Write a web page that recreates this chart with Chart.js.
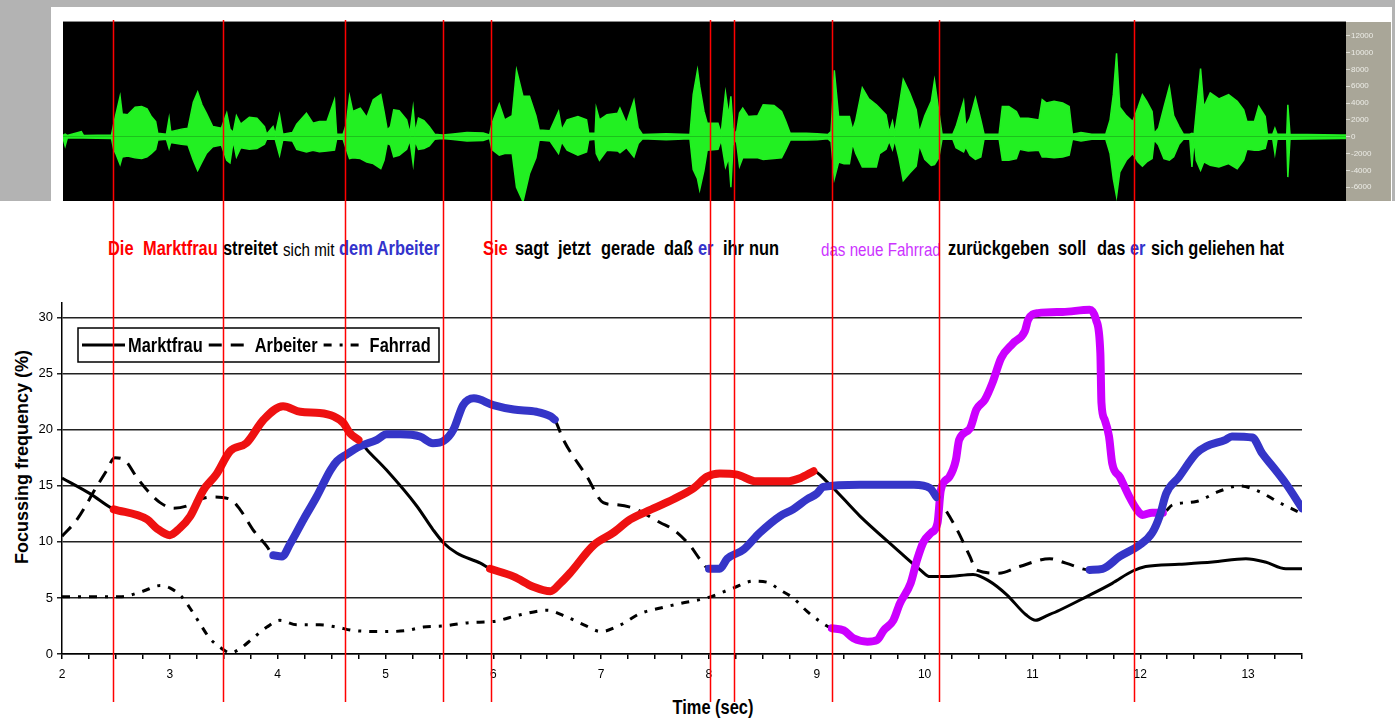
<!DOCTYPE html>
<html>
<head>
<meta charset="utf-8">
<script src="https://cdn.jsdelivr.net/npm/chart.js@4.4.1/dist/chart.umd.min.js"></script>
<style>
  html, body { margin: 0; padding: 0; background: #fff; }
  #page { position: relative; width: 1395px; height: 720px; overflow: hidden; background: #fff; }
  .gray { position: absolute; background: #b3b3b3; }
  #waveCanvas { position: absolute; left: 63px; top: 22px; }
  #waveTop { position: absolute; left: 63px; top: 21px; width: 1283px; height: 1px; background: #8a8a8a; }
  #mainCanvas { position: absolute; left: 0; top: 0; pointer-events: none; }
  .w { position: absolute; top: 239px; line-height: 19px; white-space: pre;
       font-family: 'Liberation Sans', Arial, sans-serif; font-size: 20px; font-weight: bold; color: #000;
       transform: scaleX(0.82); transform-origin: 0 0; }
  .w.thin { font-weight: normal; font-size: 18.5px; top: 240px; }
  .red { color: #ff0000; }
  .blue { color: #3333cc; }
  .pink { color: #cc33ff; }
  #yTitle { position: absolute; left: 22px; top: 457px; transform: translate(-50%, -50%) rotate(-90deg);
            font-family: 'Liberation Sans', Arial, sans-serif; font-weight: bold; font-size: 18px; white-space: nowrap; }
  #xTitle { position: absolute; left: 713px; top: 707px; transform: translate(-50%, -50%) scaleX(0.82);
            font-family: 'Liberation Sans', Arial, sans-serif; font-weight: bold; font-size: 20px; white-space: nowrap; }
</style>
</head>
<body>
<div id="page">
  <div class="gray" style="left:0;top:0;width:1395px;height:7px;"></div>
  <div class="gray" style="left:0;top:0;width:51px;height:201px;"></div>
  <div class="gray" style="left:1392px;top:0;width:3px;height:201px;"></div>
  <canvas id="waveCanvas" width="1328" height="179"></canvas>
  <div id="waveTop"></div>

  <span class="w red" style="left:108px">Die</span>
  <span class="w red" style="left:143px">Marktfrau</span>
  <span class="w" style="left:223px">streitet</span>
  <span class="w thin" style="left:283px">sich mit</span>
  <span class="w blue" style="left:339px">dem Arbeiter</span>
  <span class="w red" style="left:483px">Sie</span>
  <span class="w" style="left:515px">sagt</span>
  <span class="w" style="left:558px">jetzt</span>
  <span class="w" style="left:601px">gerade</span>
  <span class="w" style="left:664px">daß</span>
  <span class="w blue" style="left:698px">er</span>
  <span class="w" style="left:723px">ihr</span>
  <span class="w" style="left:749px">nun</span>
  <span class="w thin pink" style="left:821px">das neue Fahrrad</span>
  <span class="w" style="left:948px">zurückgeben</span>
  <span class="w" style="left:1058px">soll</span>
  <span class="w" style="left:1097px">das</span>
  <span class="w blue" style="left:1130px">er</span>
  <span class="w" style="left:1151px">sich geliehen hat</span>

  <div id="yTitle">Focussing frequency (%)</div>
  <div id="xTitle">Time (sec)</div>
  <canvas id="mainCanvas" width="1395" height="720"></canvas>
</div>

<script>
// --- DATA: focussing frequency per referent, [time (sec), percent] ---
const marktfrau = [
  [2.0, 15.7], [2.26, 14.3], [2.48, 12.9], [2.79, 12.0], [2.88, 11.2], [3.0, 10.6], [3.09, 11.2],
  [3.19, 12.3], [3.31, 14.6], [3.43, 16.0], [3.56, 18.1], [3.71, 18.8], [3.87, 20.9], [4.05, 22.1],
  [4.21, 21.6], [4.39, 21.5], [4.52, 21.2], [4.61, 20.6], [4.67, 19.7], [4.75, 19.1], [4.83, 18.2],
  [5.01, 16.4], [5.29, 13.2], [5.44, 11.1], [5.54, 9.9], [5.66, 9.0], [5.88, 8.1], [5.97, 7.6],
  [6.19, 6.9], [6.37, 6.0], [6.53, 5.6], [6.62, 6.3], [6.71, 7.2], [6.93, 9.7], [7.11, 10.8],
  [7.27, 12.0], [7.42, 12.7], [7.67, 13.8], [7.86, 14.8], [7.98, 15.8], [8.10, 16.1], [8.26, 16.0],
  [8.44, 15.4], [8.72, 15.4], [8.85, 15.7], [8.97, 16.3], [9.09, 15.4], [9.40, 12.3], [9.71, 9.6],
  [9.96, 7.5], [10.05, 6.9], [10.2, 6.9], [10.45, 7.1], [10.6, 6.5], [10.76, 5.3], [10.94, 3.5],
  [11.03, 3.0], [11.13, 3.4], [11.25, 3.9], [11.5, 5.1], [11.74, 6.3], [11.93, 7.4], [12.05, 7.8],
  [12.36, 8.0], [12.67, 8.2], [12.98, 8.5], [13.16, 8.2], [13.35, 7.6], [13.5, 7.6]
];
const arbeiter = [
  [2.0, 10.5], [2.14, 12.0], [2.32, 14.9], [2.41, 16.3], [2.49, 17.5], [2.58, 17.3], [2.69, 15.8],
  [2.79, 14.6], [2.91, 13.5], [3.03, 13.0], [3.16, 13.2], [3.28, 13.8], [3.40, 14.0], [3.56, 13.8],
  [3.65, 12.9], [3.77, 11.1], [3.90, 9.6], [3.96, 8.8], [4.04, 8.7], [4.12, 9.9], [4.24, 12.0],
  [4.36, 14.0], [4.49, 16.4], [4.55, 17.2], [4.64, 17.8], [4.76, 18.5], [4.92, 19.1], [5.01, 19.6],
  [5.14, 19.6], [5.32, 19.4], [5.44, 18.8], [5.54, 19.0], [5.63, 20.0], [5.72, 22.2], [5.82, 22.8],
  [6.0, 22.2], [6.19, 21.8], [6.40, 21.6], [6.53, 21.2], [6.57, 20.9], [6.65, 19.1], [6.87, 15.8],
  [7.02, 13.5], [7.15, 13.3], [7.30, 13.0], [7.55, 11.7], [7.67, 11.1], [7.83, 9.6], [7.92, 8.4],
  [8.0, 7.6], [8.10, 7.6], [8.17, 8.5], [8.32, 9.3], [8.47, 10.8], [8.66, 12.3], [8.78, 12.9],
  [8.91, 13.8], [9.0, 14.3], [9.06, 14.9], [9.40, 15.1], [9.90, 15.1], [10.05, 14.8], [10.11, 14.0],
  [10.17, 13.2], [10.3, 11.1], [10.42, 8.7], [10.48, 7.5], [10.69, 7.2], [10.88, 7.8], [11.16, 8.5],
  [11.31, 8.1], [11.53, 7.5], [11.65, 7.6], [11.81, 8.7], [11.99, 9.7], [12.11, 10.8], [12.18, 12.3],
  [12.24, 14.3], [12.36, 15.8], [12.52, 17.9], [12.61, 18.5], [12.79, 19.1], [12.85, 19.4],
  [13.04, 19.3], [13.13, 17.9], [13.23, 16.7], [13.35, 15.2], [13.5, 13.0]
];
const fahrrad = [
  [2.0, 5.1], [2.29, 5.1], [2.54, 5.1], [2.75, 5.6], [2.91, 6.1], [3.0, 5.9], [3.11, 5.1], [3.20, 3.9],
  [3.28, 2.7], [3.37, 1.4], [3.48, 0.5], [3.56, 0.1], [3.64, 0.4], [3.77, 1.4], [3.90, 2.4], [4.02, 3.0],
  [4.18, 2.6], [4.39, 2.6], [4.55, 2.4], [4.70, 2.1], [5.01, 2.0], [5.20, 2.1], [5.35, 2.4], [5.54, 2.5],
  [5.78, 2.8], [6.0, 2.9], [6.25, 3.5], [6.5, 3.9], [6.68, 3.3], [6.84, 2.6], [7.0, 2.0], [7.18, 2.6],
  [7.36, 3.6], [7.55, 4.1], [7.73, 4.5], [7.98, 5.0], [8.23, 5.9], [8.41, 6.5], [8.54, 6.4], [8.66, 5.7],
  [8.78, 5.0], [8.91, 3.8], [9.03, 2.9], [9.14, 2.3], [9.25, 2.1], [9.34, 1.4], [9.47, 1.1], [9.56, 1.25],
  [9.62, 2.1], [9.71, 3.0], [9.77, 4.5], [9.87, 6.3], [9.93, 8.4], [9.99, 10.0], [10.06, 10.8],
  [10.12, 11.7], [10.15, 14.6], [10.23, 15.8], [10.29, 17.3], [10.32, 19.1], [10.42, 20.1], [10.48, 21.8],
  [10.56, 22.7], [10.63, 24.2], [10.71, 26.4], [10.82, 27.7], [10.93, 28.8], [10.96, 29.8], [11.05, 30.4],
  [11.28, 30.5], [11.53, 30.7], [11.59, 29.8], [11.63, 26.8], [11.64, 22.4], [11.67, 20.9], [11.71, 19.4],
  [11.74, 17.0], [11.81, 15.8], [11.90, 14.0], [11.96, 13.0], [12.02, 12.4], [12.11, 12.6], [12.21, 12.6],
  [12.3, 13.3], [12.52, 13.6], [12.73, 14.5], [12.92, 15.0], [13.1, 14.5], [13.29, 13.5], [13.46, 12.7]
];

// spans where the referent is being spoken about (thick coloured overlay)
const redSegments = [[2.48, 4.76], [5.97, 8.97]];
const blueSegments = [[3.96, 6.57], [8.0, 10.11], [11.53, 13.5]];
const purpleSegments = [[9.14, 12.21]];

// word boundaries (sec)
const markerTimes = [2.47, 3.49, 4.62, 5.53, 5.98, 8.01, 8.23, 9.14, 10.13, 11.94];

// axis ticks
const xTickLabels = [2, 3, 4, 5, 6, 7, 8, 9, 10, 11, 12, 13];
const yTicks = [0, 5, 10, 15, 20, 25, 30];
const ampTicks = [-6000, -4000, -2000, 0, 2000, 4000, 6000, 8000, 10000, 12000];

// speech waveform envelope: [time (sec), upper, lower]
const wave = [
  [2.00,150,-150],[2.02,300,-1100],[2.04,150,-150],[2.17,600,-150],[2.19,150,-150],[2.45,200,-200],
  [2.47,1500,-1500],[2.49,2600,-2000],[2.53,4800,-3300],[2.55,2700,-2400],[2.60,2600,-2300],[2.67,3500,-2500],
  [2.73,3600,-2600],[2.78,3300,-2400],[2.82,2400,-2000],[2.86,1800,-1500],[2.88,400,-400],[2.96,300,-300],
  [2.985,2200,-1400],[3.00,600,-700],[3.10,900,-900],[3.16,1000,-1000],[3.21,4100,-2800],[3.25,5300,-4000],
  [3.29,3800,-3000],[3.33,2800,-2000],[3.39,1200,-1200],[3.47,1000,-1000],[3.52,2800,-2800],[3.55,900,-3100],
  [3.58,500,-500],[3.61,2500,-2400],[3.65,1500,-1300],[3.73,2300,-1500],[3.80,2200,-1400],[3.87,1200,-900],
  [3.89,300,-300],[3.95,1200,-300],[3.97,300,-300],[4.01,2600,-2200],[4.04,300,-400],[4.13,500,-500],
  [4.17,1500,-1500],[4.26,2800,-1800],[4.32,1600,-1600],[4.38,1800,-1800],[4.45,1800,-1700],[4.52,4400,-1600],
  [4.54,300,-300],[4.60,300,-300],[4.63,1500,-1500],[4.66,4800,-2600],[4.69,3000,-2500],[4.76,3400,-2600],
  [4.82,2300,-3000],[4.88,4400,-3200],[4.95,5000,-3800],[4.98,3000,-2800],[5.01,800,-800],[5.04,1200,-1000],
  [5.07,3200,-2400],[5.12,3100,-2200],[5.19,2000,-1500],[5.22,400,-400],[5.25,3400,-3200],[5.27,500,-500],
  [5.30,2200,-1500],[5.35,1900,-1400],[5.40,1200,-1100],[5.45,300,-300],[5.52,200,-200],[5.60,300,-300],
  [5.75,500,-500],[5.90,450,-450],[5.96,200,-200],[5.98,1500,-1500],[6.05,3900,-2200],[6.10,2000,-2000],
  [6.17,2500,-2000],[6.21,7900,-6000],[6.27,4800,-7700],[6.33,4800,-4400],[6.39,2500,-2500],[6.42,800,-400],
  [6.52,700,-500],[6.60,3000,-2000],[6.63,800,-600],[6.68,2000,-1600],[6.78,2400,-2200],[6.86,2000,-1800],
  [6.88,400,-400],[6.94,400,-300],[6.95,3400,-2000],[6.98,2000,-2800],[7.05,2600,-1600],[7.15,2800,-1700],
  [7.17,3400,-1900],[7.23,1600,-1300],[7.30,4300,-2400],[7.34,1000,-800],[7.38,250,-250],[7.60,350,-350],
  [7.82,250,-250],[7.85,5000,-3900],[7.89,7900,-5000],[7.91,6000,-6300],[7.95,3000,-4000],[7.98,1600,-1600],
  [8.08,1600,-1500],[8.11,400,-400],[8.15,5200,-3600],[8.18,2500,-2500],[8.20,4800,-6000],[8.22,1000,-1000],
  [8.25,300,-300],[8.28,2800,-3500],[8.31,3400,-2500],[8.36,2400,-2500],[8.45,2500,-2500],[8.50,3800,-2700],
  [8.60,3700,-2600],[8.67,3000,-2500],[8.71,1800,-1500],[8.75,400,-400],[8.90,400,-400],[9.00,350,-350],
  [9.10,250,-250],[9.13,600,-600],[9.16,7900,-5000],[9.20,2400,-3000],[9.25,2400,-3200],[9.30,2400,-3200],
  [9.33,800,-800],[9.36,2000,-2000],[9.42,5800,-3600],[9.48,4500,-3600],[9.55,3800,-3600],[9.58,3400,-2000],
  [9.64,2600,-1500],[9.67,500,-500],[9.70,1800,-1500],[9.72,400,-400],[9.76,3500,-2500],[9.80,6800,-5200],
  [9.86,5200,-4300],[9.92,3200,-3500],[9.95,500,-1000],[10.00,2500,-2700],[10.06,4200,-3400],[10.09,6700,-3300],
  [10.13,3000,-2500],[10.16,300,-300],[10.26,300,-300],[10.29,1200,-1300],[10.36,4200,-1800],[10.38,1200,-1200],
  [10.42,2200,-2200],[10.47,4600,-2700],[10.52,2000,-2400],[10.55,300,-300],[10.69,300,-300],[10.72,3600,-2800],
  [10.78,3600,-2800],[10.85,3000,-2600],[10.88,2200,-1500],[10.96,2200,-1700],[11.06,2000,-1600],[11.09,4400,-2400],
  [11.13,4000,-2400],[11.20,4200,-2500],[11.28,4000,-2400],[11.34,3600,-2200],[11.37,300,-300],[11.45,500,-500],
  [11.55,300,-300],[11.68,300,-300],[11.72,2000,-2000],[11.75,5000,-5000],[11.78,9900,-7100],[11.81,3500,-4200],
  [11.87,2500,-2800],[11.93,1800,-2000],[11.98,3500,-3000],[12.02,5000,-3500],[12.06,4200,-3000],[12.11,3000,-2600],
  [12.13,400,-400],[12.17,1000,-1000],[12.22,3500,-2600],[12.27,5900,-2800],[12.31,2500,-2400],[12.36,1200,-900],
  [12.40,300,-300],[12.46,300,-300],[12.48,400,-3600],[12.50,300,-300],[12.52,3000,-2800],[12.56,8100,-4000],
  [12.59,3500,-3000],[12.65,5200,-3400],[12.73,4500,-3600],[12.82,5000,-3200],[12.90,4200,-3800],[12.96,3200,-2800],
  [12.99,1800,-1500],[13.06,1800,-1600],[13.10,3600,-1600],[13.16,2400,-1400],[13.18,300,-300],[13.23,300,-300],
  [13.25,1000,-2000],[13.27,300,-300],[13.36,300,-300],[13.37,3800,-4800],[13.39,300,-300],[13.86,200,-200],
  [13.91,200,-200]
];

const SANS = "'Liberation Sans', Arial, sans-serif";
const NARROW_X = 0.82;   // Arial Narrow look: squeeze regular glyphs

const toXY = (series) => series.map(([x, y]) => ({ x, y }));
const highlight = (series, segments) => series.map(([x, y]) => ({
  x, y: segments.some(([a, b]) => x >= a - 1e-9 && x <= b + 1e-9) ? y : null
}));

// --- PLUGINS ---
const markers = {
  id: 'markers',
  afterDraw(chart) {
    const { ctx } = chart;
    const xs = chart.scales.x;
    ctx.save();
    ctx.strokeStyle = '#ff0000';
    ctx.lineWidth = 1.5;
    markerTimes.forEach(t => {
      const px = Math.round(xs.getPixelForValue(t)) + 0.5;
      ctx.beginPath();
      ctx.moveTo(px, 20);
      ctx.lineTo(px, 702);
      ctx.stroke();
    });
    ctx.restore();
  }
};

const legendBox = {
  id: 'legendBox',
  afterDraw(chart) {
    const { ctx, chartArea } = chart;
    const x0 = chartArea.left + 16, y0 = chartArea.top + 25, w = 361, h = 34;
    ctx.save();
    ctx.fillStyle = '#fff';
    ctx.fillRect(x0, y0, w, h);
    ctx.strokeStyle = '#000';
    ctx.lineWidth = 1.5;
    ctx.strokeRect(x0, y0, w, h);
    ctx.font = 'bold 20px ' + SANS;
    ctx.textBaseline = 'middle';
    ctx.fillStyle = '#000';
    const cy = y0 + h / 2;
    let x = x0 + 4;
    chart.data.datasets.filter(d => d.inLegend).forEach(ds => {
      ctx.setLineDash(ds.borderDash || []);
      ctx.lineWidth = 3;
      ctx.beginPath();
      ctx.moveTo(x, cy);
      ctx.lineTo(x + 43, cy);
      ctx.stroke();
      ctx.setLineDash([]);
      x += 46;
      ctx.save();
      ctx.translate(x, cy + 1);
      ctx.scale(NARROW_X, 1);
      ctx.fillText(ds.label, 0, 0);
      ctx.restore();
      x += ctx.measureText(ds.label).width * NARROW_X + 6;
    });
    ctx.restore();
  }
};

const waveBg = {
  id: 'waveBg',
  beforeDraw(chart) {
    const { ctx, chartArea, width, height } = chart;
    ctx.save();
    ctx.fillStyle = '#000';
    ctx.fillRect(chartArea.left, 0, chartArea.right - chartArea.left, height);
    ctx.fillStyle = '#a9a698';
    ctx.fillRect(chartArea.right, 0, width - chartArea.right, height);
    ctx.restore();
  }
};

// --- WAVEFORM ---
new Chart(document.getElementById('waveCanvas'), {
  type: 'line',
  data: {
    datasets: [
      { data: wave.map(p => ({ x: p[0], y: p[1] })), borderColor: '#22f022', backgroundColor: '#22f022', fill: 'origin', borderWidth: 1.5 },
      { data: wave.map(p => ({ x: p[0], y: p[2] })), borderColor: '#22f022', backgroundColor: '#22f022', fill: 'origin', borderWidth: 1.5 }
    ]
  },
  options: {
    responsive: false, animation: false, devicePixelRatio: 1,
    layout: { padding: 0 },
    elements: { point: { radius: 0 }, line: { tension: 0 } },
    plugins: { legend: { display: false }, tooltip: { enabled: false } },
    scales: {
      x: { type: 'linear', min: 2, max: 13.91, display: false },
      y: {
        position: 'right', min: -7640, max: 13630,
        afterBuildTicks: s => { s.ticks = ampTicks.map(v => ({ value: v })); },
        afterFit: s => { s.width = 45; s.paddingTop = 0; s.paddingBottom = 0; },
        grid: { drawOnChartArea: false, drawTicks: true, tickLength: 4, color: '#dcdcd4' },
        border: { display: false },
        ticks: { color: '#ecece6', padding: 1, font: { size: 8, family: SANS }, callback: v => String(v) }
      }
    }
  },
  plugins: [waveBg]
});

// --- MAIN CHART ---
new Chart(document.getElementById('mainCanvas'), {
  type: 'line',
  data: {
    datasets: [
      { label: 'Marktfrau', inLegend: true, data: toXY(marktfrau), borderColor: '#000', borderWidth: 3, order: 2 },
      { label: 'Arbeiter', inLegend: true, data: toXY(arbeiter), borderColor: '#000', borderWidth: 3, borderDash: [13, 9], order: 2 },
      { label: 'Fahrrad', inLegend: true, data: toXY(fahrrad), borderColor: '#000', borderWidth: 3, borderDash: [8, 8, 3, 8], order: 2 },
      { label: 'Marktfrau (focus)', data: highlight(marktfrau, redSegments), borderColor: '#ee1111', borderWidth: 8, borderCapStyle: 'round', borderJoinStyle: 'round', order: 1 },
      { label: 'Arbeiter (focus)', data: highlight(arbeiter, blueSegments), borderColor: '#3535c8', borderWidth: 8, borderCapStyle: 'round', borderJoinStyle: 'round', order: 1 },
      { label: 'Fahrrad (focus)', data: highlight(fahrrad, purpleSegments), borderColor: '#cc00ff', borderWidth: 8, borderCapStyle: 'round', borderJoinStyle: 'round', order: 1 }
    ]
  },
  options: {
    responsive: false, animation: false, devicePixelRatio: 1,
    layout: { padding: { top: 303, right: 93, left: 0, bottom: 0 } },
    elements: { point: { radius: 0 }, line: { cubicInterpolationMode: 'monotone' } },
    spanGaps: false,
    plugins: { legend: { display: false }, tooltip: { enabled: false } },
    scales: {
      x: {
        type: 'linear', min: 2, max: 13.5,
        afterBuildTicks: s => {
          const t = [];
          for (let v = 2; v <= 13.5 + 1e-9; v += 0.25) t.push({ value: Math.round(v * 100) / 100 });
          s.ticks = t;
        },
        afterFit: s => { s.height = 66; },
        ticks: { autoSkip: false, maxRotation: 0, padding: 8, color: '#000',
                 font: { family: SANS, size: 12 },
                 callback: v => xTickLabels.includes(v) ? String(v) : '' },
        grid: { drawOnChartArea: false, drawTicks: true, tickLength: 5, color: '#000', lineWidth: 1.5 },
        border: { display: true, color: '#000', width: 1.5 }
      },
      y: {
        min: 0, max: 31.3,
        afterBuildTicks: s => { s.ticks = yTicks.map(v => ({ value: v })); },
        afterFit: s => { s.width = 62; },
        ticks: { padding: 4, color: '#000', font: { family: SANS, size: 13 } },
        grid: { color: '#222', lineWidth: 1.5, tickLength: 5, drawTicks: true },
        border: { display: true, color: '#000', width: 1.5 }
      }
    }
  },
  plugins: [legendBox, markers]
});
</script>
</body>
</html>
